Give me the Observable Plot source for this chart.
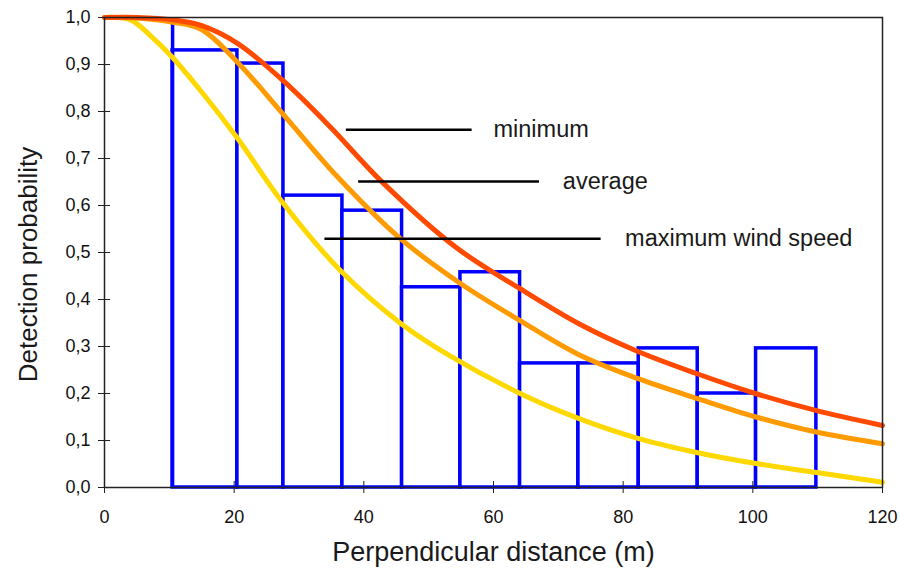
<!DOCTYPE html>
<html><head><meta charset="utf-8">
<script src="https://cdn.jsdelivr.net/npm/d3@7"></script>
<script src="https://cdn.jsdelivr.net/npm/@observablehq/plot@0.6"></script>
<style>body{margin:0;background:#fff}</style>
</head><body><div id="chart"></div><script>
// ---- data ----
const xTicks = [0, 20, 40, 60, 80, 100, 120];
const yTicks = [0, 0.1, 0.2, 0.3, 0.4, 0.5, 0.6, 0.7, 0.8, 0.9, 1.0];

// histogram bars (outlined)
const binStart  = [10.5, 20.5, 27.6, 36.7, 45.9, 54.9, 64.1, 73.1, 82.4, 91.5, 100.5];
const binEnd    = [20.5, 27.6, 36.7, 45.9, 54.9, 64.1, 73.1, 82.4, 91.5, 100.5, 109.8];
const binHeight = [0.93, 0.902, 0.621, 0.589, 0.426, 0.458, 0.264, 0.264, 0.296, 0.20, 0.296];
// first bin's left edge reaches up to 1.0
const edgeX = [10.5];
const edgeTop = [1.0];

// detection curves
const maxWindX = [0, 4, 7.2, 10.5, 14.9, 20.4, 27.5, 36.5, 45.9, 53.3, 64.1, 73.1, 82.4, 91.5, 100.5, 109.8, 120];
const maxWindY = [1.0, 0.995, 0.96, 0.915, 0.843, 0.745, 0.606, 0.46, 0.347, 0.28, 0.20, 0.147, 0.104, 0.074, 0.051, 0.032, 0.011];
const avgX = [0, 5, 10.5, 14.9, 20.5, 27.5, 36, 45.6, 54.9, 64.1, 73.1, 82.2, 91.5, 100.5, 109.8, 120];
const avgY = [1.0, 0.999, 0.99, 0.975, 0.905, 0.795, 0.66, 0.53, 0.434, 0.355, 0.283, 0.232, 0.189, 0.15, 0.118, 0.093];
const minX = [0, 5, 10.5, 14.9, 20.5, 27.6, 34.9, 42.6, 54.3, 64.1, 73.1, 82, 91.4, 100.4, 109.7, 120];
const minY = [1.0, 1.0, 0.995, 0.983, 0.945, 0.865, 0.766, 0.653, 0.51, 0.423, 0.349, 0.291, 0.242, 0.20, 0.164, 0.132];

// curve labels with leader lines
const labelNames = ["minimum", "average", "maximum wind speed"];
const leaderY     = [0.761, 0.651, 0.529];
const leaderStart = [37.3, 39.2, 34.0];
const leaderEnd   = [56.7, 67.1, 76.6];
const labelX      = [60.0, 70.7, 80.3];

const xTitle = "Perpendicular distance (m)";
const yTitle = "Detection probability";

const colors = {max: "#ffd800", avg: "#ff9a00", min: "#ff4a00", bar: "#0000ff"};

// ---- tables built from arrays ----
const bars = binStart.map((s, i) => ({x1: s, x2: binEnd[i], h: binHeight[i]}));
const edges = edgeX.map((x, i) => ({x, top: edgeTop[i]}));
const toPts = (xs, ys) => xs.map((x, i) => ({x, y: ys[i]}));

const chart = Plot.plot({
  width: 900, height: 574,
  marginTop: 17, marginLeft: 104, marginRight: 18, marginBottom: 87,
  style: {fontFamily: "'Liberation Sans', Arial, sans-serif", background: "#fff", color: "#111"},
  x: {domain: [0, 120]},
  y: {domain: [0, 1]},
  marks: [
    Plot.rect(bars, {x1: "x1", x2: "x2", y1: 0, y2: "h", fill: "white", stroke: colors.bar, strokeWidth: 3.5, inset: 0}),
    Plot.ruleX(edges, {x: "x", y1: 0, y2: "top", stroke: colors.bar, strokeWidth: 3.5}),
    Plot.line(toPts(maxWindX, maxWindY), {x: "x", y: "y", stroke: colors.max, strokeWidth: 5, curve: "catmull-rom"}),
    Plot.line(toPts(avgX, avgY), {x: "x", y: "y", stroke: colors.avg, strokeWidth: 5, curve: "catmull-rom"}),
    Plot.line(toPts(minX, minY), {x: "x", y: "y", stroke: colors.min, strokeWidth: 5, curve: "catmull-rom"}),
    Plot.ruleY(labelNames, {y: (d, i) => leaderY[i], x1: (d, i) => leaderStart[i], x2: (d, i) => leaderEnd[i], stroke: "#000", strokeWidth: 2.5}),
    Plot.text(labelNames, {x: (d, i) => labelX[i], y: (d, i) => leaderY[i], text: d => d, textAnchor: "start", fontSize: 23.5, fill: "#1a1a1a"}),
    Plot.frame({stroke: "#222", strokeWidth: 1.5}),
    Plot.axisX({ticks: xTicks, tickSize: 12, dy: -6, tickPadding: 17, fontSize: 18, tickFormat: d => String(d), stroke: "#222", label: null}),
    Plot.axisY({ticks: yTicks, tickSize: 12, dx: 6, tickPadding: 8, fontSize: 18, tickFormat: d => d.toFixed(1).replace(".", ","), stroke: "#222", label: null}),
    Plot.text([xTitle], {frameAnchor: "bottom", dy: 65, lineAnchor: "middle", textAnchor: "middle", text: d => d, fontSize: 27, fill: "#1a1a1a"}),
    Plot.text([yTitle], {frameAnchor: "left", dx: -76, dy: 12, rotate: -90, textAnchor: "middle", lineAnchor: "middle", text: d => d, fontSize: 26, fill: "#1a1a1a"})
  ]
});
document.getElementById("chart").appendChild(chart);
</script></body></html>
